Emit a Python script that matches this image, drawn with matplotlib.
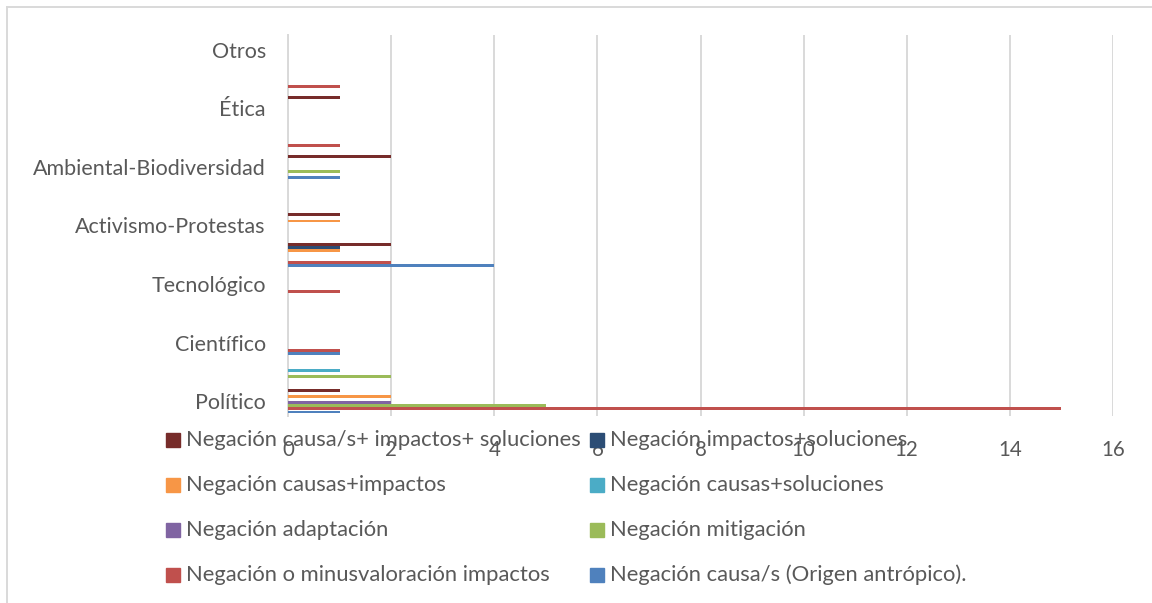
import matplotlib
matplotlib.use("Agg")
import matplotlib.pyplot as plt
import numpy as np
from matplotlib.patches import Rectangle
from matplotlib.lines import Line2D

plt.rcParams['font.family'] = ['Lato', 'DejaVu Sans']

# 13 categories on the axis (bottom to top); only every other label is shown in the original
categories = ["Político", "", "Científico", "", "Tecnológico", "", "Activismo-Protestas", "",
              "Ambiental-Biodiversidad", "", "Ética", "", "Otros"]

series_names = [
    "Negación causa/s (Origen antrópico).",
    "Negación o minusvaloración impactos",
    "Negación mitigación",
    "Negación adaptación",
    "Negación causas+soluciones",
    "Negación causas+impactos",
    "Negación impactos+soluciones",
    "Negación causa/s+ impactos+ soluciones",
]
colors = ["#4F81BD", "#C0504D", "#9BBB59", "#8064A2", "#4BACC6", "#F79646", "#2C4D75", "#772C2A"]

causa_origen        = [1, 0, 1, 0, 0, 4, 0, 0, 1, 0, 0, 0, 0]
minusvaloracion     = [15, 0, 1, 0, 1, 2, 0, 0, 0, 1, 0, 1, 0]
mitigacion          = [5, 2, 0, 0, 0, 0, 0, 0, 1, 0, 0, 0, 0]
adaptacion          = [2, 0, 0, 0, 0, 0, 0, 0, 0, 0, 0, 0, 0]
causas_soluciones   = [0, 1, 0, 0, 0, 0, 0, 0, 0, 0, 0, 0, 0]
causas_impactos     = [2, 0, 0, 0, 0, 1, 1, 0, 0, 0, 0, 0, 0]
impactos_soluciones = [0, 0, 0, 0, 0, 1, 0, 0, 0, 0, 0, 0, 0]
causa_imp_sol       = [1, 0, 0, 0, 0, 2, 1, 0, 2, 0, 1, 0, 0]

series_values = [causa_origen, minusvaloracion, mitigacion, adaptacion,
                 causas_soluciones, causas_impactos, impactos_soluciones, causa_imp_sol]

x_ticks = [0, 2, 4, 6, 8, 10, 12, 14, 16]

W, H = 1152, 603
fig = plt.figure(figsize=(W / 100, H / 100), dpi=100)
ax = fig.add_axes([288 / W, 1 - 416 / H, (1113 - 288) / W, (416 - 35) / H])

n = len(categories)
y = np.arange(n)
slot = 0.1035
bar_h = 0.098
for i, (vals, col) in enumerate(zip(series_values, colors)):
    ax.barh(y + (i - 3.5) * slot, vals, height=bar_h, color=col, zorder=3)

ax.set_xlim(0, 16)
ax.set_ylim(-0.5, n - 0.5)
ax.set_xticks(x_ticks)
ax.set_xticklabels([str(t) for t in x_ticks])
ax.set_yticks(y)
ax.set_yticklabels(categories)
ax.tick_params(axis='both', length=0, colors='#595959')
ax.tick_params(axis='y', labelsize=15.5, pad=16)
ax.tick_params(axis='x', labelsize=14.8, pad=17)
ax.grid(axis='x', color='#D9D9D9', linewidth=1.4, zorder=0)
for s in ['top', 'right', 'bottom']:
    ax.spines[s].set_visible(False)
ax.spines['left'].set_color('#D9D9D9')
ax.spines['left'].set_linewidth(1.4)

# chart frame
fig.add_artist(Line2D([7 / W, 1], [1 - 7 / H, 1 - 7 / H], color='#D9D9D9', lw=1.4))
fig.add_artist(Line2D([7 / W, 7 / W], [0, 1 - 7 / H], color='#D9D9D9', lw=1.4))

# legend (reversed series order, two columns)
legend_order = [7, 6, 5, 4, 3, 2, 1, 0]
col_x = [166, 590]
row_y = [440, 485, 530, 575]
for k, si in enumerate(legend_order):
    r, c = divmod(k, 2)
    mx, my = col_x[c], row_y[r]
    fig.add_artist(Rectangle((mx / W, 1 - (my + 7) / H), 14 / W, 14 / H,
                             transform=fig.transFigure, color=colors[si]))
    fig.text((mx + 20) / W, 1 - my / H, series_names[si], fontsize=15.8,
             color='#595959', va='center', ha='left')

fig.savefig("out.png", dpi=100)
